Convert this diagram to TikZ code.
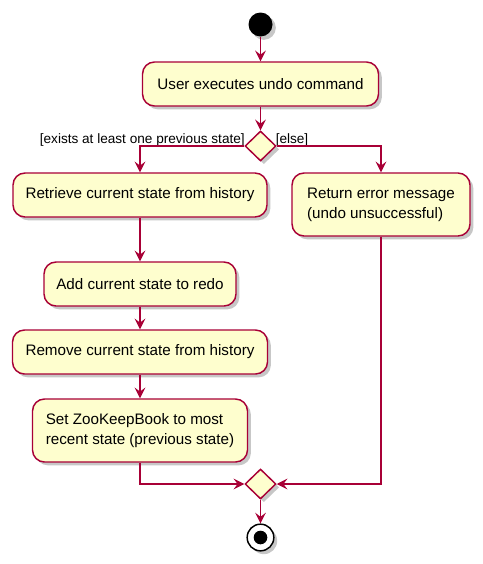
\documentclass[tikz,border=0pt]{standalone}
\usepackage{fontspec}
\setmainfont{Liberation Sans}
\usetikzlibrary{arrows.meta,shapes.geometric,shadows}
\definecolor{pborder}{HTML}{A80036}
\definecolor{pfill}{HTML}{FEFECE}
\tikzset{
  shad/.style={drop shadow={shadow xshift=2.5pt,shadow yshift=-2.5pt,fill=black,opacity=0.22}},
  act/.style={shape=rectangle,rounded corners=9pt,draw=pborder,fill=pfill,line width=1.1pt,
    minimum height=33pt,inner sep=2pt,align=left,shad,
    font=\fontsize{11.4pt}{15pt}\selectfont},
  decision/.style={shape=diamond,draw=pborder,fill=pfill,line width=1.1pt,
    minimum width=23.25pt,minimum height=22.5pt,inner sep=0pt,shad},
  flow/.style={draw=pborder,line width=1.1pt,-{Stealth[length=8pt,width=8pt,inset=3pt]}},
  guard/.style={inner sep=0pt,font=\fontsize{10.2pt}{12pt}\selectfont}
}
\begin{document}
\begin{tikzpicture}[x=0.75pt,y=-0.75pt]
\useasboundingbox (0,0) rectangle (482,564);
\node[circle,fill=black,minimum size=18pt,inner sep=0pt,shad] (start) at (260.5,24.5) {};
\node[act,minimum width=177pt] (b1) at (260.5,84) {User executes undo command};
\node[decision] (d1) at (260.5,146) {};
\node[act,minimum width=190.5pt] (b2) at (140,195) {Retrieve current state from history};
\node[act,minimum width=133.5pt,minimum height=47.25pt] (be) at (381,204.5) {Return error message\\(undo unsuccessful)};
\node[act,minimum width=144pt] (b3) at (140,284) {Add current state to redo};
\node[act,minimum width=191.25pt] (b4) at (140,352) {Remove current state from history};
\node[act,minimum width=161.25pt,minimum height=47.25pt] (b5) at (140,430.5) {Set ZooKeepBook to most\\recent state (previous state)};
\node[decision] (d2) at (260.5,484) {};
\node[circle,draw=black,fill=white,line width=1.1pt,minimum size=20pt,inner sep=0pt,shad] (stop) at (260.5,537.5) {};
\fill[black] (stop.center) circle[radius=5.1pt];
\node[guard,anchor=base east] (g1) at (245,143) {[exists at least one previous state]};
\node[guard,anchor=base west] (g2) at (275.5,143) {[else]};
\draw[flow] (start) -- (b1);
\draw[flow] (b1) -- (d1);
\draw[flow] (d1.west) -| (b2.north);
\draw[flow] (d1.east) -| (be.north);
\draw[flow] (b2) -- (b3);
\draw[flow] (b3) -- (b4);
\draw[flow] (b4) -- (b5);
\draw[flow] (b5.south) |- (d2.west);
\draw[flow] (be.south) |- (d2.east);
\draw[flow] (d2) -- (stop);
\end{tikzpicture}
\end{document}
